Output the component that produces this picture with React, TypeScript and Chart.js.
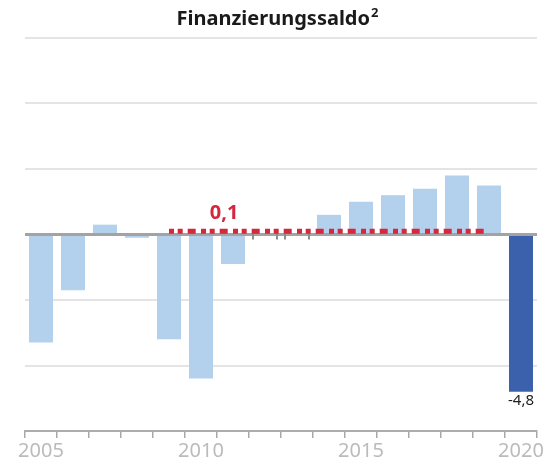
import React, { useEffect, useRef } from "react";
import { Chart, registerables } from "chart.js";

Chart.register(...registerables);

const years = ["2005","2006","2007","2008","2009","2010","2011","2012","2013","2014","2015","2016","2017","2018","2019","2020"];
const saldo = [-3.3, -1.7, 0.3, -0.1, -3.2, -4.4, -0.9, 0.0, 0.0, 0.6, 1.0, 1.2, 1.4, 1.8, 1.5, -4.8];
const averageLine = [null, null, null, null, 0.1, 0.1, 0.1, 0.1, 0.1, 0.1, 0.1, 0.1, 0.1, 0.1, 0.1, null];
const averageLabel = "0,1";
const shownYears = ["2005", "2010", "2015", "2020"];
const titleText = "Finanzierungssaldo";
const titleSup = "2";
const yMin = -6;
const yMax = 6;
const yStep = 2;

const LIGHT = "#b3d1ed";
const DARK = "#3b61ad";
const RED = "#d3283e";
const FONT = "'Noto Sans', sans-serif";

const decor = {
  id: "decor",
  afterDatasetDraw(chart: any, args: any) {
    if (args.index !== 0) return;
    const { ctx, chartArea } = chart;
    const y = chart.scales.y;
    const y0 = y.getPixelForValue(0);
    ctx.save();
    ctx.strokeStyle = "#a3a3a3";
    ctx.lineWidth = 3;
    ctx.beginPath();
    ctx.moveTo(chartArea.left, y0);
    ctx.lineTo(chartArea.right, y0);
    ctx.stroke();
    const meta = chart.getDatasetMeta(0);
    ctx.strokeStyle = "#8c8c8c";
    ctx.lineWidth = 2;
    meta.data.forEach((el: any, i: number) => {
      if (saldo[i] === 0) {
        const w = el.width / 2;
        [el.x - w, el.x + w].forEach((xx) => {
          ctx.beginPath();
          ctx.moveTo(xx, y0 - 5);
          ctx.lineTo(xx, y0 + 5);
          ctx.stroke();
        });
      }
    });
    ctx.restore();
  },
  afterDraw(chart: any) {
    const { ctx } = chart;
    const x = chart.scales.x;
    const y = chart.scales.y;
    ctx.save();
    ctx.fillStyle = "#1a1a1a";
    ctx.font = `bold 20px ${FONT}`;
    const w1 = ctx.measureText(titleText).width;
    ctx.font = `bold 13px ${FONT}`;
    const w2 = ctx.measureText(titleSup).width;
    const start = chart.width / 2 - (w1 + w2 + 1) / 2;
    ctx.textBaseline = "alphabetic";
    ctx.textAlign = "left";
    ctx.font = `bold 20px ${FONT}`;
    ctx.fillText(titleText, start, 25);
    ctx.font = `bold 13px ${FONT}`;
    ctx.fillText(titleSup, start + w1 + 1, 17);
    ctx.fillStyle = RED;
    ctx.font = `bold 20px ${FONT}`;
    ctx.textAlign = "center";
    ctx.fillText(averageLabel, x.getPixelForValue(5.72), y.getPixelForValue(0.1) - 12);
    const meta = chart.getDatasetMeta(0);
    const last = saldo.length - 1;
    const el: any = meta.data[last];
    ctx.fillStyle = "#222";
    ctx.font = `15px ${FONT}`;
    ctx.textBaseline = "top";
    ctx.fillText(String(saldo[last]).replace(".", ","), el.x, el.y + 2);
    ctx.restore();
  },
};

export default function App() {
  const ref = useRef<HTMLCanvasElement>(null);
  useEffect(() => {
    const chart = new Chart(ref.current!, {
      data: {
        labels: years,
        datasets: [
          {
            type: "bar",
            data: saldo,
            backgroundColor: saldo.map((_, i) => (i === saldo.length - 1 ? DARK : LIGHT)),
            barPercentage: 0.75,
            categoryPercentage: 1,
            order: 2,
          },
          {
            type: "line",
            data: averageLine as any,
            borderColor: RED,
            borderWidth: 5,
            borderDash: [5, 3.7, 5, 5, 8, 5.3],
            borderCapStyle: "butt",
            pointRadius: 0,
            order: 1,
          },
        ],
      } as any,
      options: {
        animation: false,
        responsive: true,
        maintainAspectRatio: false,
        layout: { padding: { top: 38, left: 25, right: 18, bottom: 3 } },
        plugins: { legend: { display: false }, tooltip: { enabled: false }, title: { display: false } },
        scales: {
          x: {
            offset: true,
            grid: { display: true, offset: true, drawOnChartArea: false, drawTicks: true, tickLength: 7, color: "#a8a8a8", lineWidth: 1.5 },
            border: { display: true, color: "#adadad", width: 2 },
            ticks: {
              autoSkip: false,
              maxRotation: 0,
              padding: 1.5,
              color: "#bbbbbb",
              font: { family: FONT, size: 20 },
              callback: (v: any, i: number) => (shownYears.includes(years[i]) ? years[i] : ""),
            },
          },
          y: {
            min: yMin,
            max: yMax,
            afterFit: (s: any) => { s.width = 0; },
            ticks: { display: false, stepSize: yStep },
            border: { display: false },
            grid: {
              drawTicks: false,
              lineWidth: 2,
              color: (c: any) => (c.tick.value === 0 || c.tick.value === yMin ? "rgba(0,0,0,0)" : "#e4e4e4"),
            },
          },
        },
      },
      plugins: [decor],
    });
    return () => chart.destroy();
  }, []);
  return (
    <div style={{ position: "absolute", left: 0, top: 0, width: 555, height: 468, background: "#fff" }}>
      <canvas ref={ref} />
    </div>
  );
}
